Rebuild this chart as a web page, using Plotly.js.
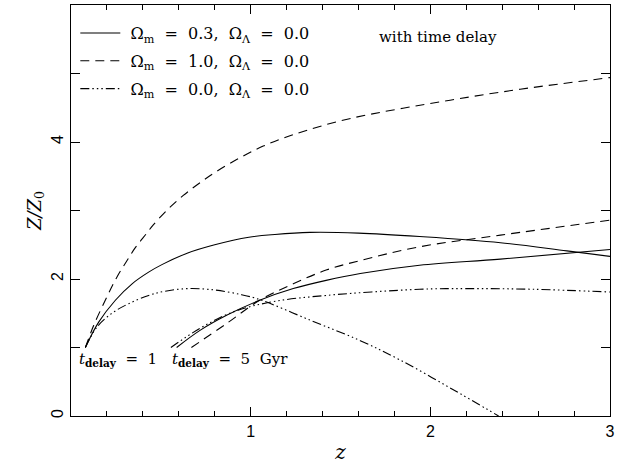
<!DOCTYPE html>
<html>
<head>
<meta charset="utf-8">
<script src="https://cdn.plot.ly/plotly-3.0.1.min.js"></script>
<style>html,body{margin:0;padding:0;background:#fff;}#chart{width:619px;height:464px;}</style>
</head>
<body>
<div id="chart"></div>
<script>
// t_delay = 1 Gyr curves
const z_m03_t1 = [0.08, 0.154, 0.247, 0.34, 0.432, 0.506, 0.65, 0.80, 0.99, 1.135, 1.33, 1.60, 1.94, 2.39, 2.76, 3.0];
const y_m03_t1 = [1.00, 1.37, 1.69, 1.93, 2.10, 2.21, 2.38, 2.50, 2.61, 2.65, 2.68, 2.67, 2.62, 2.53, 2.41, 2.33];
const z_m10_t1 = [0.08, 0.126, 0.20, 0.256, 0.312, 0.356, 0.419, 0.458, 0.54, 0.625, 0.72, 0.81, 0.94, 1.07, 1.24, 1.55, 2.11, 2.5, 3.0];
const y_m10_t1 = [1.00, 1.32, 1.74, 2.03, 2.27, 2.45, 2.66, 2.79, 3.02, 3.22, 3.41, 3.57, 3.77, 3.94, 4.11, 4.34, 4.61, 4.77, 4.94];
const z_m00_t1 = [0.08, 0.145, 0.228, 0.321, 0.432, 0.52, 0.65, 0.80, 0.95, 1.05, 1.33, 1.61, 1.83, 2.11, 2.38];
const y_m00_t1 = [1.00, 1.30, 1.50, 1.64, 1.76, 1.82, 1.86, 1.84, 1.77, 1.70, 1.40, 1.10, 0.82, 0.41, 0.0];
// t_delay = 5 Gyr curves
const z_m03_t5 = [0.588, 0.718, 0.866, 1.05, 1.237, 1.42, 1.61, 1.94, 2.39, 3.0];
const y_m03_t5 = [1.00, 1.25, 1.47, 1.69, 1.86, 1.98, 2.08, 2.20, 2.29, 2.43];
const z_m10_t5 = [0.67, 0.866, 1.05, 1.237, 1.42, 1.61, 1.94, 2.39, 3.0];
const y_m10_t5 = [1.00, 1.35, 1.69, 1.93, 2.13, 2.27, 2.47, 2.64, 2.86];
const z_m00_t5 = [0.556, 0.718, 0.903, 1.126, 1.42, 1.94, 2.2, 2.57, 3.0];
const y_m00_t5 = [1.00, 1.28, 1.52, 1.67, 1.76, 1.85, 1.86, 1.85, 1.81];

const legendNames = [
  '\u00a0Ω<sub>m</sub>\u00a0 = \u00a00.3,\u00a0 Ω<sub>Λ</sub>\u00a0 = \u00a00.0',
  '\u00a0Ω<sub>m</sub>\u00a0 = \u00a01.0,\u00a0 Ω<sub>Λ</sub>\u00a0 = \u00a00.0',
  '\u00a0Ω<sub>m</sub>\u00a0 = \u00a00.0,\u00a0 Ω<sub>Λ</sub>\u00a0 = \u00a00.0'
];
const xTickVals = [1, 2, 3];
const xTickText = ['1', '2', '3'];
const yTickVals = [0, 1, 2, 3, 4, 5, 6];
const yTickText = ['0', '', '2', '', '4', '', ''];

const solid = 'solid';
const dashed = '9px,6px';
const dashdot = '9px,3px,1.5px,3px,1.5px,3px,1.5px,3px';

function tr(x, y, dash, name, show, grp) {
  return {x: x, y: y, type: 'scatter', mode: 'lines', name: name, showlegend: show,
    legendgroup: grp, line: {color: '#000', width: 1.1, dash: dash, shape: 'spline', smoothing: 1},
    hoverinfo: 'skip'};
}

const data = [
  tr(z_m03_t1, y_m03_t1, solid, legendNames[0], true, 'a'),
  tr(z_m10_t1, y_m10_t1, dashed, legendNames[1], true, 'b'),
  tr(z_m00_t1, y_m00_t1, dashdot, legendNames[2], true, 'c'),
  tr(z_m03_t5, y_m03_t5, solid, legendNames[0], false, 'a'),
  tr(z_m10_t5, y_m10_t5, dashed, legendNames[1], false, 'b'),
  tr(z_m00_t5, y_m00_t5, dashdot, legendNames[2], false, 'c')
];

const serif = '"DejaVu Serif", serif';
const layout = {
  width: 619, height: 464,
  margin: {l: 71, r: 9, t: 5, b: 48},
  paper_bgcolor: '#fff', plot_bgcolor: '#fff',
  showlegend: true,
  legend: {x: 0.008, y: 0.973, xanchor: 'left', yanchor: 'top', bgcolor: 'rgba(0,0,0,0)', itemwidth: 40,
    font: {family: serif, size: 16, color: '#000'}, tracegroupgap: 4, traceorder: 'grouped'},
  xaxis: {range: [0, 3], showgrid: false, zeroline: false, showline: true, linecolor: '#000', linewidth: 1.3,
    mirror: 'allticks', ticks: 'inside', ticklen: 9, tickcolor: '#000', tickwidth: 1,
    tickvals: xTickVals, ticktext: xTickText,
    minor: {dtick: 0.2, tick0: 0, ticks: 'inside', ticklen: 5, tickcolor: '#000', tickwidth: 1},
    tickfont: {family: '"Liberation Sans", sans-serif', size: 16, color: '#000'},
    title: {text: '<i>z</i>', font: {family: serif, size: 20, color: '#000'}, standoff: 8}},
  yaxis: {range: [0, 6], showgrid: false, zeroline: false, showline: true, linecolor: '#000', linewidth: 1.3,
    mirror: 'allticks', ticks: 'inside', ticklen: 9, tickcolor: '#000', tickwidth: 1,
    tickvals: yTickVals, ticktext: yTickText, tickangle: -90,
    tickfont: {family: '"Liberation Sans", sans-serif', size: 16, color: '#000'},
    title: {text: '<i>Z/Z</i><sub>0</sub>', font: {family: serif, size: 18, color: '#000'}, standoff: 3}},
  annotations: [
    {xref: 'paper', yref: 'paper', x: 0.568, y: 0.922, xanchor: 'left', yanchor: 'middle', showarrow: false,
     text: 'with time delay', font: {family: serif, size: 15, color: '#000'}},
    {xref: 'x', yref: 'y', x: 0.035, y: 0.82, xanchor: 'left', yanchor: 'middle', showarrow: false,
     text: '<i>t</i><sub><b>delay</b></sub>\u00a0 = \u00a01', font: {family: serif, size: 15, color: '#000'}},
    {xref: 'x', yref: 'y', x: 0.55, y: 0.82, xanchor: 'left', yanchor: 'middle', showarrow: false,
     text: '<i>t</i><sub><b>delay</b></sub>\u00a0 = \u00a05\u00a0 Gyr', font: {family: serif, size: 15, color: '#000'}}
  ]
};

Plotly.newPlot('chart', data, layout, {displayModeBar: false, staticPlot: true});
</script>
</body>
</html>
